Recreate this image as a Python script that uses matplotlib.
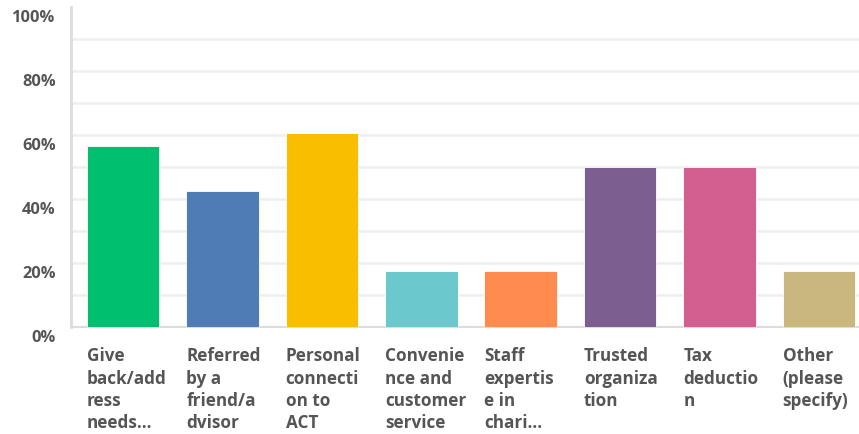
import matplotlib
matplotlib.use("Agg")
import matplotlib.pyplot as plt
import matplotlib.transforms as mtransforms
import numpy as np

categories = [
    "Give\nback/add\nress\nneeds...",
    "Referred\nby a\nfriend/a\ndvisor",
    "Personal\nconnecti\non to\nACT",
    "Convenie\nnce and\ncustomer\nservice",
    "Staff\nexpertis\ne in\nchari...",
    "Trusted\norganiza\ntion",
    "Tax\ndeductio\nn",
    "Other\n(please\nspecify)",
]
values = [56.6, 42.5, 60.6, 17.5, 17.5, 50.0, 50.0, 17.5]
colors = ["#00BF6F", "#507CB6", "#F9BE00", "#6BC8CD", "#FF8B4F", "#7D5E90", "#D25F90", "#C9B77E"]
yticks = [0, 20, 40, 60, 80, 100]
ytick_labels = ["0%", "20%", "40%", "60%", "80%", "100%"]

W, H = 859, 435
fig = plt.figure(figsize=(W / 100, H / 100), dpi=100)
ax = fig.add_axes([71 / W, (H - 328) / H, (W - 71) / W, 320 / H])

x = np.arange(len(categories))
bw = 0.73
ax.bar(x, values, width=bw, color=colors, edgecolor="white", linewidth=0.6, zorder=3)

ax.set_ylim(0, 100)
ax.set_xlim(-0.525, 7.404)

for g in range(10, 100, 10):
    ax.axhline(g, color="#efefef", linewidth=1.8, zorder=1)

for s in ["top", "right"]:
    ax.spines[s].set_visible(False)
ax.spines["left"].set_color("#dcdcdc")
ax.spines["left"].set_linewidth(2)
ax.spines["bottom"].set_color("#dcdcdc")
ax.spines["bottom"].set_linewidth(1.5)

font = dict(family="Open Sans", weight="bold", color="#555555")

ax.set_yticks(yticks)
ax.set_yticklabels(ytick_labels, fontsize=11.8, **font)
ax.tick_params(axis="y", length=0, pad=11)
off = mtransforms.ScaledTranslation(0, -8 / 100, fig.dpi_scale_trans)
for lab in ax.get_yticklabels():
    lab.set_transform(lab.get_transform() + off)

ax.set_xticks(x - bw / 2)
ax.set_xticklabels(categories, fontsize=12.3, ha="left", va="top", linespacing=1.3, **font)
ax.tick_params(axis="x", length=0, pad=14)

fig.savefig("out.png", dpi=100)
